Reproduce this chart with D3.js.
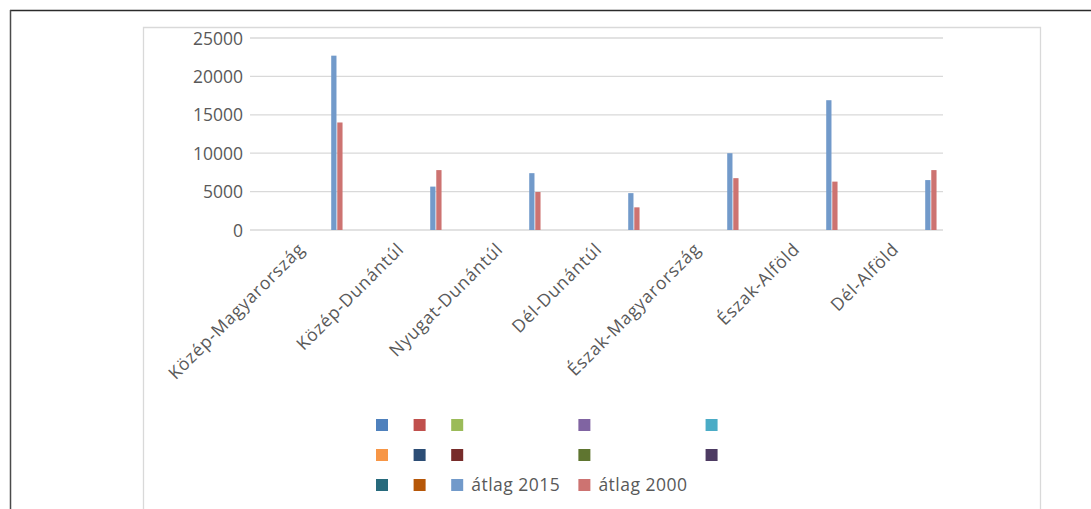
<!DOCTYPE html>
<html>
<head>
<meta charset="utf-8">
<script src="https://cdn.jsdelivr.net/npm/d3@7"></script>
<style>
  html, body { margin: 0; padding: 0; background: #fff; }
  svg { display: block; }
  text { font-family: "Open Sans", "Liberation Sans", sans-serif; fill: #595959; }
</style>
</head>
<body>
<svg id="chart" width="1091" height="509"></svg>
<script>
// Regions (x axis categories)
const categories = [
  "Közép-Magyarország", "Közép-Dunántúl", "Nyugat-Dunántúl", "Dél-Dunántúl",
  "Észak-Magyarország", "Észak-Alföld", "Dél-Alföld"
];

// Averages per region
const atlag2015 = [22700, 5650, 7400, 4800, 10000, 16900, 6500];
const atlag2000 = [14000, 7800, 4950, 2950, 6750, 6300, 7800];

// Series: twelve unnamed series with no data, then the two averages
const seriesNames = ["", "", "", "", "", "", "", "", "", "", "", "", "átlag 2015", "átlag 2000"];
const seriesColors = [
  "#4f81bd", "#c0504d", "#9bbb59", "#8064a2", "#4bacc6", "#f79646",
  "#2c4d75", "#772c2a", "#5f7530", "#4d3b62", "#276a7c", "#b65708",
  "#729aca", "#cd7371"
];
const emptySeries = categories.map(() => null);
const seriesValues = [
  emptySeries, emptySeries, emptySeries, emptySeries, emptySeries, emptySeries,
  emptySeries, emptySeries, emptySeries, emptySeries, emptySeries, emptySeries,
  atlag2015, atlag2000
];

const yTicks = [0, 5000, 10000, 15000, 20000, 25000];

const svg = d3.select("#chart");

// Outer frame (top and left edges) and the chart area outline
svg.append("line").attr("x1", 10).attr("x2", 1091).attr("y1", 10.5).attr("y2", 10.5)
  .attr("stroke", "#2b2b2b").attr("stroke-width", 1.5);
svg.append("line").attr("x1", 10.5).attr("x2", 10.5).attr("y1", 10).attr("y2", 509)
  .attr("stroke", "#4a4a4a").attr("stroke-width", 1.5);
svg.append("path")
  .attr("d", "M143.5,509 V27.5 H1040.5 V509")
  .attr("fill", "none").attr("stroke", "#d9d9d9").attr("stroke-width", 1.3);

// Scales
const x0 = d3.scaleBand().domain(categories).range([250, 943]).padding(0);
const x1 = d3.scaleBand().domain(d3.range(seriesNames.length))
  .range([2, x0.bandwidth()]).paddingInner(0).paddingOuter(1);
const y = d3.scaleLinear().domain([0, 25000]).range([230, 38]);

// Horizontal gridlines
svg.append("g")
  .selectAll("line")
  .data(yTicks)
  .join("line")
  .attr("x1", 250).attr("x2", 943)
  .attr("y1", d => y(d)).attr("y2", d => y(d))
  .attr("stroke", "#d9d9d9").attr("stroke-width", 1.3);

// Y axis labels
const yAxis = d3.axisLeft(y).tickValues(yTicks).tickSize(0).tickPadding(0)
  .tickFormat(d3.format("d"));
const yg = svg.append("g").attr("transform", "translate(243,0)").call(yAxis);
yg.select(".domain").remove();
yg.selectAll("text")
  .attr("font-family", "'Open Sans', 'Liberation Sans', sans-serif")
  .attr("font-size", 17.5).attr("fill", "#595959").attr("dy", "0.35em");

// Bars
const groups = svg.append("g")
  .selectAll("g")
  .data(categories)
  .join("g")
  .attr("transform", d => `translate(${x0(d)},0)`);

groups.selectAll("rect")
  .data((c, ci) => seriesValues.map((vals, si) => ({ si, v: vals[ci] })).filter(d => d.v != null))
  .join("rect")
  .attr("x", d => x1(d.si) + 0.4)
  .attr("width", x1.bandwidth() - 0.8)
  .attr("y", d => y(d.v))
  .attr("height", d => y(0) - y(d.v))
  .attr("fill", d => seriesColors[d.si]);

// Category labels, rotated
svg.append("g")
  .selectAll("text")
  .data(categories)
  .join("text")
  .attr("transform", d => `translate(${x0(d) + x0.bandwidth() / 2 + 2},246) rotate(-45)`)
  .attr("text-anchor", "end")
  .attr("dy", "0.35em")
  .attr("font-size", 17.5)
  .attr("letter-spacing", 0.8)
  .text(d => d);

// Legend: 5 columns, row-major, column width from its widest entry
const legendCols = 5;
const sw = 12;
const legendItems = seriesNames.map((name, i) => ({ name, color: seriesColors[i], i }));
const measure = svg.append("text").attr("font-size", 17.5).attr("letter-spacing", 0.5)
  .attr("visibility", "hidden");
const itemWidth = d => {
  if (!d.name) return sw + 25.6;
  measure.text(d.name);
  return sw + 8 + measure.node().getComputedTextLength() + 18;
};
const colWidths = d3.range(legendCols).map(c =>
  d3.max(legendItems.filter(d => d.i % legendCols === c), itemWidth));
measure.remove();
const colX = [];
colWidths.reduce((acc, w, c) => { colX[c] = acc; return acc + w; }, 376);

const legend = svg.append("g")
  .selectAll("g")
  .data(legendItems)
  .join("g")
  .attr("transform", d => `translate(${colX[d.i % legendCols]},${425 + Math.floor(d.i / legendCols) * 30})`);
legend.append("rect")
  .attr("x", 0).attr("y", -sw / 2).attr("width", sw).attr("height", sw)
  .attr("fill", d => d.color);
legend.filter(d => d.name).append("text")
  .attr("x", sw + 8).attr("dy", "0.35em")
  .attr("font-size", 17.5)
  .attr("letter-spacing", 0.5)
  .text(d => d.name);
</script>
</body>
</html>
